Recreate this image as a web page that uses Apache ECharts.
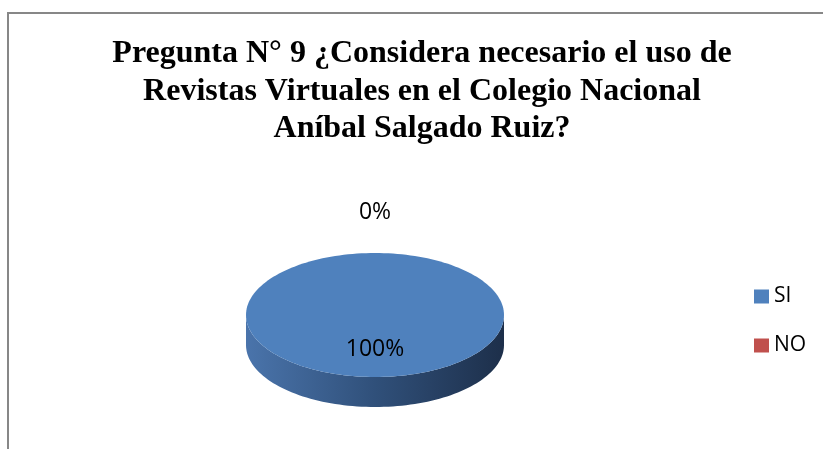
<!DOCTYPE html>
<html>
<head>
<meta charset="utf-8">
<script src="https://cdn.jsdelivr.net/npm/echarts@6/dist/echarts.min.js"></script>
<style>
html,body{margin:0;padding:0;background:#fff;}
#chart{width:823px;height:449px;}
</style>
</head>
<body>
<div id="chart"></div>
<script>
// ---- data ----
var titleLines = [
  'Pregunta N° 9 ¿Considera necesario el uso de',
  'Revistas Virtuales en el Colegio Nacional',
  'Aníbal Salgado Ruiz?'
];
var categories = ['SI', 'NO'];
var values = [100, 0];

// ---- styles ----
var topColors = ['#4f81bd', '#c0504d'];
var sideColors = [
  ['#4a74ab', '#30507a', '#1d2f4a'],
  ['#ad4845', '#7a3230', '#4c1f1e']
];

var total = values.reduce(function (a, b) { return a + b; }, 0);
var CX = 375, CY = 315, RX = 129, RY = 62, DEPTH = 30;

function pt(theta, dy) {
  return [CX + RX * Math.sin(theta), CY - RY * Math.cos(theta) + (dy || 0)];
}
function arcPts(a0, a1, dy) {
  var pts = [];
  var n = Math.max(2, Math.ceil((a1 - a0) / (Math.PI / 90)));
  for (var k = 0; k <= n; k++) pts.push(pt(a0 + (a1 - a0) * k / n, dy));
  return pts;
}

function makeRender(idx) {
  return function (params, api) {
    var v = api.value(0);
    var start = 0;
    for (var j = 0; j < idx; j++) start += values[j];
    var a0 = start / total * Math.PI * 2;
    var a1 = (start + v) / total * Math.PI * 2;
    var children = [];
    var share = v / total;
    if (v > 0) {
      var s0 = Math.max(a0, Math.PI / 2), s1 = Math.min(a1, Math.PI * 1.5);
      if (s1 > s0) {
        var topArc = arcPts(s0, s1, 0);
        var botArc = arcPts(s0, s1, DEPTH).reverse();
        children.push({
          type: 'polygon',
          shape: { points: topArc.concat(botArc) },
          style: {
            fill: new echarts.graphic.LinearGradient(0, 0, 1, 0, [
              { offset: 0, color: sideColors[idx][0] },
              { offset: 0.5, color: sideColors[idx][1] },
              { offset: 1, color: sideColors[idx][2] }
            ], false)
          }
        });
      }
      var facePts = arcPts(a0, a1, 0);
      if (share < 1) facePts = [[CX, CY]].concat(facePts);
      children.push({
        type: 'polygon',
        shape: { points: facePts },
        style: { fill: topColors[idx] }
      });
    }
    var mid = (a0 + a1) / 2;
    var lx, ly;
    if (share >= 0.05) {
      lx = CX + RX * 0.55 * Math.sin(mid);
      ly = CY - RY * 0.55 * Math.cos(mid);
    } else {
      lx = CX + RX * 1.2 * Math.sin(mid);
      ly = CY - RY * 1.65 * Math.cos(mid);
    }
    children.push({
      type: 'text',
      z2: 10,
      style: {
        x: lx, y: ly,
        text: Math.round(share * 100) + '%',
        fill: '#000',
        font: '23px "Open Sans", sans-serif',
        align: 'center',
        verticalAlign: 'middle'
      }
    });
    return { type: 'group', children: children };
  };
}

var series = categories.map(function (name, i) {
  return {
    type: 'custom',
    name: name,
    coordinateSystem: 'none',
    data: [[values[i]]],
    itemStyle: { color: topColors[i] },
    renderItem: makeRender(i),
    z: 2 + i
  };
});

var chart = echarts.init(document.getElementById('chart'), null, { renderer: 'canvas' });
chart.setOption({
  backgroundColor: '#fff',
  animation: false,
  title: {
    text: titleLines.join('\n'),
    left: 417,
    textAlign: 'center',
    top: 30,
    textStyle: {
      fontFamily: '"Liberation Serif", serif',
      fontWeight: 'bold',
      fontSize: 32,
      lineHeight: 37.5,
      color: '#000'
    }
  },
  legend: {
    orient: 'vertical',
    left: 754,
    top: 286,
    padding: 0,
    itemWidth: 15,
    itemHeight: 14,
    itemGap: 28,
    icon: 'rect',
    data: categories,
    textStyle: { fontFamily: '"Open Sans", sans-serif', fontSize: 21, color: '#000' }
  },
  graphic: [{
    type: 'rect',
    shape: { x: 8, y: 13, width: 900, height: 600 },
    style: { fill: 'none', stroke: '#878787', lineWidth: 2 },
    silent: true
  }],
  series: series
});
</script>
</body>
</html>
